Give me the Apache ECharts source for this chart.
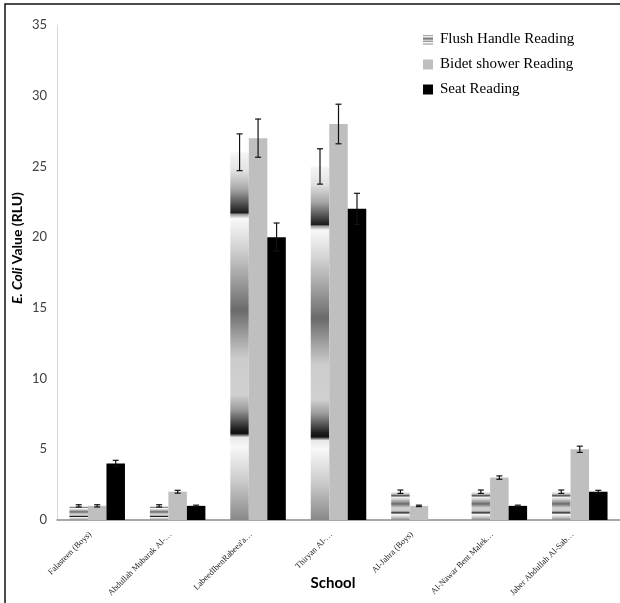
<!DOCTYPE html>
<html><head><meta charset="utf-8">
<script src="https://cdn.jsdelivr.net/npm/echarts@6/dist/echarts.min.js"></script>
<style>html,body{margin:0;padding:0;background:#fff}#c{width:620px;height:603px}</style>
</head><body><div id="c"></div>
<script>
const categories = ["Falasteen (Boys)", "Abdullah Mubarak Al-…", "LabeedIbenRabeea'a…", "Thiryan Al-…", "Al-Jahra (Boys)", "Al-Nawar Bent Malek…", "Jaber Abdullah Al-Sab…"];
const seriesNames = ["Flush Handle Reading", "Bidet shower Reading", "Seat Reading"];
const flushValues = [1, 1, 26, 25, 2, 2, 2];
const bidetValues = [1, 2, 27, 28, 1, 3, 5];
const seatValues = [4, 1, 20, 22, 0, 1, 2];
const flushErr = [0.08, 0.08, 1.3, 1.25, 0.12, 0.12, 0.12];
const bidetErr = [0.08, 0.1, 1.35, 1.4, 0.05, 0.12, 0.22];
const seatErr = [0.22, 0.05, 1.0, 1.1, null, 0.05, 0.1];
const yTicks = {min: 0, max: 35, interval: 5};

const chart = echarts.init(document.getElementById('c'), null, {renderer: 'canvas'});
const flushGrad = new echarts.graphic.LinearGradient(0, 0, 0, 1, [
  {offset: 0, color: '#f6f6f6'}, {offset: 0.05, color: '#e2e2e2'}, {offset: 0.10, color: '#a8a8a8'},
  {offset: 0.155, color: '#303030'}, {offset: 0.165, color: '#1c1c1c'}, {offset: 0.168, color: '#909090'},
  {offset: 0.18, color: '#f8f8f8'}, {offset: 0.25, color: '#d8d8d8'}, {offset: 0.34, color: '#a4a4a4'},
  {offset: 0.43, color: '#6a6a6a'}, {offset: 0.50, color: '#a0a0a0'}, {offset: 0.56, color: '#cccccc'},
  {offset: 0.66, color: '#d0d0d0'}, {offset: 0.70, color: '#9a9a9a'}, {offset: 0.755, color: '#1a1a1a'},
  {offset: 0.765, color: '#111111'}, {offset: 0.775, color: '#e8e8e8'}, {offset: 0.80, color: '#f8f8f8'},
  {offset: 0.90, color: '#c8c8c8'}, {offset: 1, color: '#888888'}
]);
const colors = [flushGrad, '#bfbfbf', '#000000'];
const values = [flushValues, bidetValues, seatValues];
const errs = [flushErr, bidetErr, seatErr];
const BAR_FRAC = 0.23;

function errSeries(i) {
  const data = [];
  errs[i].forEach((e, k) => { if (e != null) data.push([k, values[i][k], e]); });
  return {
    type: 'custom', z: 5, silent: true, legendHoverLink: false,
    data: data,
    encode: {x: 0, y: 1},
    renderItem: function (params, api) {
      const idx = api.value(0), m = api.value(1), e = api.value(2);
      const band = api.size([1, 0])[0];
      const off = (i - 1) * band * BAR_FRAC;
      const t = api.coord([idx, m + e]);
      const b = api.coord([idx, m - e]);
      const x = t[0] + off;
      const cap = 3;
      const st = {stroke: '#111', lineWidth: 1.2};
      return {type: 'group', children: [
        {type: 'line', shape: {x1: x, y1: t[1], x2: x, y2: b[1]}, style: st},
        {type: 'line', shape: {x1: x - cap, y1: t[1], x2: x + cap, y2: t[1]}, style: st},
        {type: 'line', shape: {x1: x - cap, y1: b[1], x2: x + cap, y2: b[1]}, style: st}
      ]};
    }
  };
}

const series = [];
for (let i = 0; i < 3; i++) {
  series.push({
    name: seriesNames[i], type: 'bar', data: values[i],
    barWidth: (BAR_FRAC * 100) + '%', barGap: '0%',
    itemStyle: {color: colors[i]}, z: 2
  });
}
for (let i = 0; i < 3; i++) series.push(errSeries(i));

chart.setOption({
  animation: false,
  backgroundColor: '#fff',
  grid: {left: 57, top: 25, width: 565, height: 495, containLabel: false},
  legend: {
    orient: 'vertical', left: 418, top: 27, itemWidth: 10, itemHeight: 10, itemGap: 10,
    data: seriesNames, icon: 'rect',
    textStyle: {fontFamily: 'Liberation Serif', fontSize: 15, color: '#000', padding: [0, 0, 0, 2]}
  },
  xAxis: {
    type: 'category', data: categories,
    axisLine: {lineStyle: {color: '#8c8c8c', width: 1.5}},
    axisTick: {show: false},
    axisLabel: {rotate: 45, interval: 0, margin: 6, padding: [0, 10, 0, 0], fontFamily: 'Liberation Serif', fontSize: 8.5, color: '#222'}
  },
  yAxis: {
    type: 'value', min: yTicks.min, max: yTicks.max, interval: yTicks.interval,
    splitLine: {show: false},
    axisLine: {show: true, lineStyle: {color: '#d9d9d9', width: 1}},
    axisTick: {show: false},
    axisLabel: {margin: 10, fontFamily: 'Lato', fontSize: 13, color: '#404040'}
  },
  graphic: [
    {type: 'rect', shape: {x: 5, y: 4, width: 700, height: 700}, style: {fill: 'none', stroke: '#111', lineWidth: 1.5}, z: 100, silent: true},
    {type: 'text', x: 17, y: 248, rotation: Math.PI / 2, z: 100,
      style: {text: '{i|E. Coli} {b|Value (RLU)}', align: 'center', verticalAlign: 'middle',
        rich: {i: {fontFamily: 'Lato', fontSize: 14, fontWeight: 'bold', fontStyle: 'italic', fill: '#000'},
               b: {fontFamily: 'Lato', fontSize: 14, fontWeight: 'bold', fill: '#000'}}}},
    {type: 'text', x: 333, y: 583, z: 100,
      style: {text: 'School', align: 'center', verticalAlign: 'middle', fontFamily: 'Lato', fontSize: 15, fontWeight: 'bold', fill: '#000'}}
  ],
  series: series
});
</script></body></html>
